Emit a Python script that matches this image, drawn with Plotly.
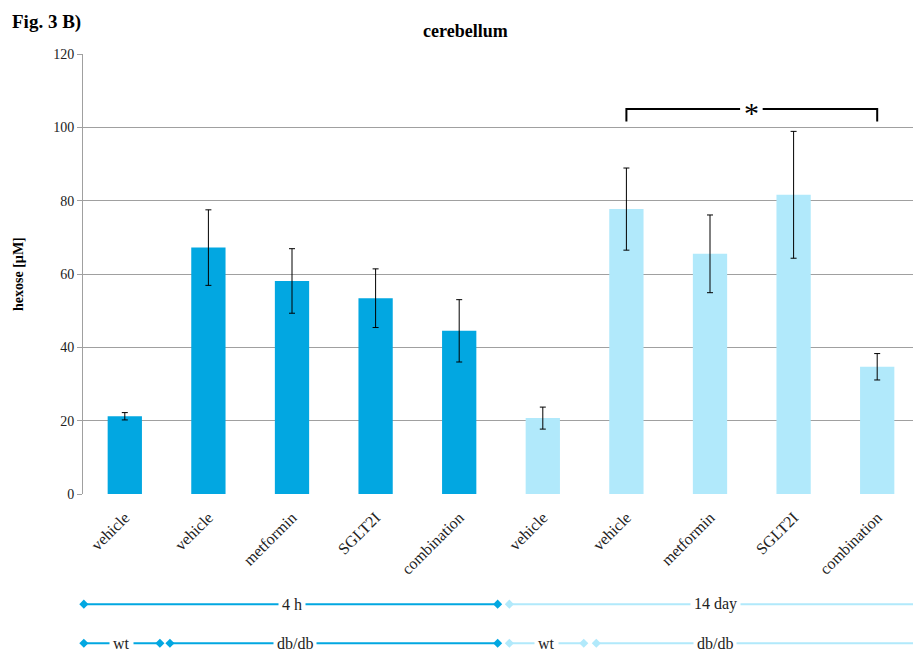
import plotly.graph_objects as go

labels = ["vehicle", "vehicle", "metformin", "SGLT2I", "combination",
          "vehicle", "vehicle", "metformin", "SGLT2I", "combination"]
values = [21.2, 67.2, 58.1, 53.4, 44.5, 20.7, 77.7, 65.5, 81.6, 34.7]
errors = [1.0, 10.3, 8.8, 8.0, 8.5, 3.0, 11.2, 10.6, 17.3, 3.6]
group_colors = ["#02A7E1"] * 5 + ["#B1E9FB"] * 5
y_ticks = [0, 20, 40, 60, 80, 100, 120]

DARK = "#02A7E1"
LIGHT = "#B1E9FB"
FONT = "Liberation Serif"

x = list(range(len(labels)))

fig = go.Figure()
fig.add_trace(go.Bar(
    x=x, y=values,
    marker=dict(color=group_colors, line=dict(width=0)),
    error_y=dict(type="data", array=errors, color="black", thickness=1, width=3),
    width=0.41, showlegend=False,
    xaxis="x", yaxis="y",
))

# bottom group rows: (x0, x1, label, label_x, row_y, color)
rows = [
    (-0.49, 4.46, "4 h", 2.0, 0.66, DARK),
    (4.60, 9.60, "14 day", 7.06, 0.66, LIGHT),
    (-0.49, 0.42, "wt", -0.04, 0.11, DARK),
    (0.54, 4.46, "db/db", 2.03, 0.11, DARK),
    (4.60, 5.49, "wt", 5.04, 0.11, LIGHT),
    (5.64, 9.60, "db/db", 7.06, 0.11, LIGHT),
]
for x0, x1, txt, tx, ry, col in rows:
    fig.add_trace(go.Scatter(
        x=[x0, x1], y=[ry, ry], mode="lines+markers",
        line=dict(color=col, width=2),
        marker=dict(symbol="diamond", size=7, color=col),
        cliponaxis=False, showlegend=False, hoverinfo="skip",
        xaxis="x2", yaxis="y2",
    ))
    fig.add_annotation(x=tx, y=ry, xref="x2", yref="y2", text=txt,
                       showarrow=False, bgcolor="white",
                       font=dict(family=FONT, size=16, color="#222"),
                       borderpad=3)

# significance bracket (gap around the asterisk)
fig.add_shape(type="path", xref="x", yref="y",
              path="M 6,101.6 L 6,105 L 7.36,105 M 7.63,105 L 9,105 L 9,101.6",
              line=dict(color="black", width=2))
fig.add_annotation(x=7.5, y=105, xref="x", yref="y", text="*",
                   showarrow=False, yshift=-3,
                   font=dict(family=FONT, size=30, color="black"))

fig.update_layout(
    width=913, height=651,
    margin=dict(l=75, r=2, t=46, b=0),
    paper_bgcolor="white", plot_bgcolor="white",
    font=dict(family=FONT, color="#222"),
    xaxis=dict(
        domain=[0, 1], range=[-0.5, 9.5],
        tickmode="array", tickvals=x, ticktext=labels,
        tickangle=-45, tickfont=dict(family=FONT, size=16, color="#222"),
        showgrid=False, showline=False, zeroline=False,
        ticks="outside", ticklen=7, tickcolor="rgba(0,0,0,0)",
        anchor="y",
    ),
    yaxis=dict(
        domain=[157 / 597, 1], range=[0, 120],
        tickmode="array", tickvals=y_ticks,
        tickfont=dict(family=FONT, size=14, color="#222"),
        showgrid=True, gridcolor="#a0a0a0", gridwidth=1,
        showline=True, linecolor="#a0a0a0", linewidth=1,
        ticks="outside", ticklen=5, tickcolor="#a0a0a0",
        zeroline=False, anchor="x",
    ),
    xaxis2=dict(domain=[0, 1], range=[-0.5, 9.5], visible=False, anchor="y2"),
    yaxis2=dict(domain=[0, 71 / 597], range=[0, 1], visible=False, anchor="x2"),
)

fig.add_annotation(x=-73 / 836, y=1 + 32 / 597, xref="paper", yref="paper",
                   text="<b>Fig. 3 B)</b>", showarrow=False,
                   xanchor="left", yanchor="middle",
                   font=dict(family=FONT, size=19, color="black"))
fig.add_annotation(x=(465 - 83) / 836, y=1 + 23 / 597, xref="paper", yref="paper",
                   text="<b>cerebellum</b>", showarrow=False,
                   xanchor="center", yanchor="middle",
                   font=dict(family=FONT, size=18, color="black"))
fig.add_annotation(x=(18 - 83) / 836, y=60, xref="paper", yref="y",
                   text="<b>hexose [µM]</b>", showarrow=False, textangle=-90,
                   xanchor="center", yanchor="middle",
                   font=dict(family=FONT, size=14, color="black"))

fig.write_html("out.html")
